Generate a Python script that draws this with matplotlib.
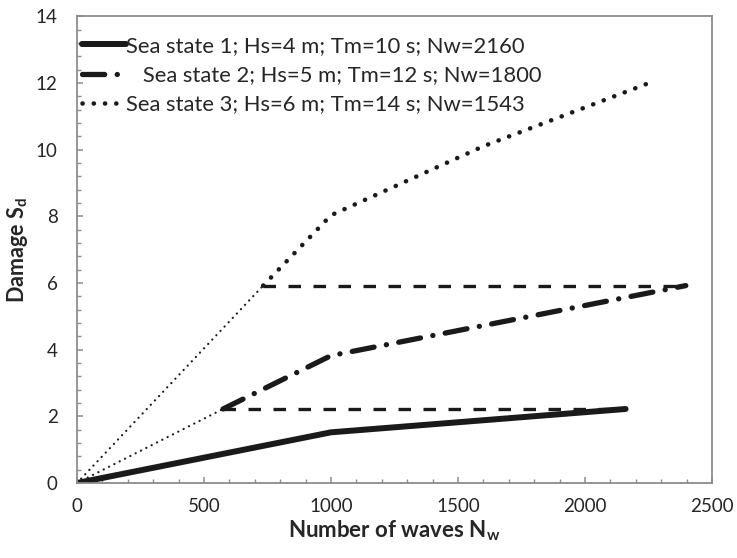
import matplotlib
matplotlib.use('Agg')
import matplotlib.pyplot as plt
from matplotlib.ticker import MultipleLocator

plt.rcParams['font.family'] = ['Lato', 'DejaVu Sans']
plt.rcParams['lines.scale_dashes'] = False

# dane
n1 = [0, 1000, 2160]
s1 = [0, 1.52, 2.22]
n2 = [575, 1000, 2397]
s2 = [2.22, 3.82, 5.92]
n3 = [733, 1000, 1600, 2271]
s3 = [5.92, 8.03, 10.1, 12.05]

# linie pomocnicze
poz_n1 = [575, 2160]
poz_s1 = [2.22, 2.22]
poz_n2 = [733, 2397]
poz_s2 = [5.92, 5.92]
start_n1 = [0, 575]
start_s1 = [0, 2.22]
start_n2 = [0, 733]
start_s2 = [0, 5.92]

etykiety = ['Sea state 1; Hs=4 m; Tm=10 s; Nw=2160',
            '   Sea state 2; Hs=5 m; Tm=12 s; Nw=1800',
            'Sea state 3; Hs=6 m; Tm=14 s; Nw=1543']

fig = plt.figure(figsize=(7.37, 5.58), dpi=100)
ax = fig.add_axes([0.1045, 0.1344, 0.8615, 0.8366])

kolor = '#1a1a1a'

# cienkie kropkowane od zera
ax.plot(start_n1, start_s1, color=kolor, lw=1.6, linestyle=(0, (0.1, 4.2)), dash_capstyle='round')
ax.plot(start_n2, start_s2, color=kolor, lw=1.6, linestyle=(0, (0.1, 4.2)), dash_capstyle='round')

# poziome przerywane
ax.plot(poz_n1, poz_s1, color=kolor, lw=2.4, linestyle=(0, (9, 9)))
ax.plot(poz_n2, poz_s2, color=kolor, lw=2.4, linestyle=(0, (9, 9)))

# serie glowne
l1, = ax.plot(n1, s1, color=kolor, lw=4.3, solid_capstyle='round', label=etykiety[0])
l2, = ax.plot(n2, s2, color=kolor, lw=3.8, linestyle=(0, (16, 9, 0.1, 9)),
              dash_capstyle='round', label=etykiety[1])
l3, = ax.plot(n3, s3, color=kolor, lw=3.3, linestyle=(0, (0.1, 8)),
              dash_capstyle='round', label=etykiety[2])

ax.set_xlim(0, 2500)
ax.set_ylim(0, 14)
ax.xaxis.set_major_locator(MultipleLocator(500))
ax.xaxis.set_minor_locator(MultipleLocator(100))
ax.yaxis.set_major_locator(MultipleLocator(2))
ax.yaxis.set_minor_locator(MultipleLocator(0.4))

for s in ax.spines.values():
    s.set_color('#8c8c8c')
    s.set_linewidth(1.3)

ax.tick_params(axis='both', which='both', direction='in', colors='#8c8c8c', labelcolor='#262626', labelsize=13.5)
ax.tick_params(axis='both', which='major', length=4, width=1.1)
ax.tick_params(axis='both', which='minor', length=3, width=1.0)
ax.tick_params(axis='x', which='major', pad=11)
ax.tick_params(axis='y', which='major', pad=14)

ax.set_xlabel('Number of waves N$_\\mathregular{w}$', fontsize=16, fontweight='bold', color='#262626', labelpad=2)
ax.set_ylabel('Damage S$_\\mathregular{d}$', fontsize=15.5, fontweight='bold', color='#262626', labelpad=4)

ax.legend(handles=[l1, l2, l3], loc='upper left', bbox_to_anchor=(0.004, 0.962),
          frameon=False, fontsize=15.8,
          handlelength=2.0, handletextpad=0.0, labelspacing=0.42,
          borderaxespad=0.0, borderpad=0.1, labelcolor='#262626')

fig.savefig('out.png', dpi=100)
